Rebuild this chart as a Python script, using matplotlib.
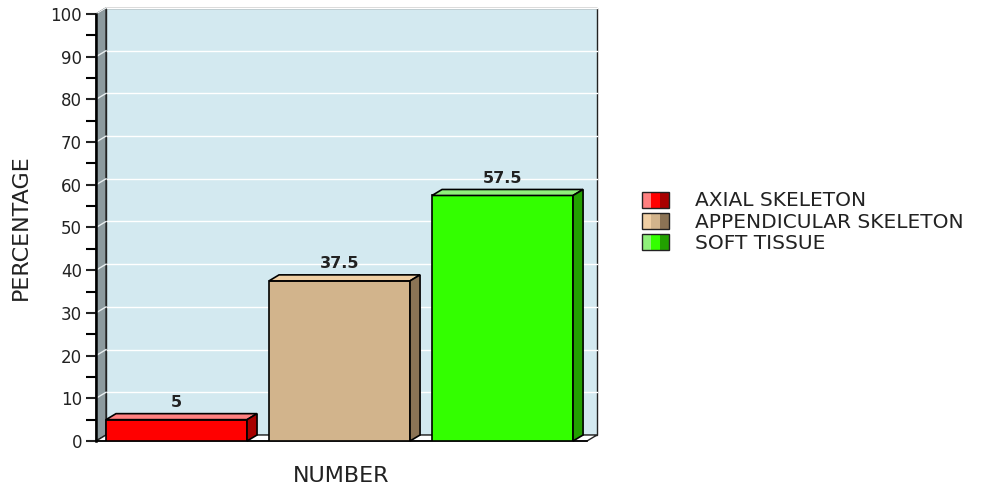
import matplotlib
matplotlib.use("Agg")
import matplotlib.pyplot as plt
from matplotlib.patches import Polygon, Rectangle

categories = ["AXIAL SKELETON", "APPENDICULAR SKELETON", "SOFT TISSUE"]
values = [5, 37.5, 57.5]
labels = ["5", "37.5", "57.5"]
front_colors = ["#ff0000", "#d2b48c", "#33ff00"]
top_colors = ["#ff8080", "#f0cfa4", "#8ff07a"]
side_colors = ["#a80000", "#8b7355", "#22a000"]

plt.rcParams['font.family'] = ['DejaVu Sans']

W, H = 983, 491
fig = plt.figure(figsize=(W / 100, H / 100), dpi=100)
left, right, bottom, top = 96, 587, 441, 14
ax = fig.add_axes([left / W, (H - bottom) / H, (right - left) / W, (bottom - top) / H])

xmin, xmax = -0.494, 2.518
ax.set_xlim(xmin, xmax)
ax.set_ylim(0, 100)

# depth offset (10 px right, 6 px up) in data units
px_x = (xmax - xmin) / (right - left)
px_y = 100 / (bottom - top)
dx, dy = 10 * px_x, 6 * px_y

# back wall, side wall, floor
ax.add_patch(Polygon([(xmin + dx, dy), (xmax + dx, dy), (xmax + dx, 100 + dy), (xmin + dx, 100 + dy)],
                     closed=True, facecolor="#d3e9f0", edgecolor="#222222", lw=1, clip_on=False, zorder=0))
ax.add_patch(Polygon([(xmin, 0), (xmin + dx, dy), (xmin + dx, 100 + dy), (xmin, 100)],
                     closed=True, facecolor="#8c9a9e", edgecolor="#222222", lw=1, clip_on=False, zorder=1))
ax.add_patch(Polygon([(xmin, 0), (xmax, 0), (xmax + dx, dy), (xmin + dx, dy)],
                     closed=True, facecolor="white", edgecolor="#222222", lw=1, clip_on=False, zorder=1))

# grid lines on back and side walls
for g in range(10, 101, 10):
    ax.plot([xmin + dx, xmax + dx], [g + dy, g + dy], color="white", lw=1, zorder=0.5, clip_on=False)
    ax.plot([xmin, xmin + dx], [g, g + dy], color="#e8eef0", lw=1, zorder=1.5, clip_on=False)

width = 0.865
for i, v in enumerate(values):
    x0, x1 = i - width / 2, i + width / 2
    ax.add_patch(Rectangle((x0, 0), width, v, facecolor=front_colors[i], edgecolor="black", lw=1.2, zorder=3))
    ax.add_patch(Polygon([(x0, v), (x1, v), (x1 + dx, v + dy), (x0 + dx, v + dy)], closed=True,
                         facecolor=top_colors[i], edgecolor="black", lw=1.2, zorder=3, clip_on=False))
    ax.add_patch(Polygon([(x1, 0), (x1 + dx, dy), (x1 + dx, v + dy), (x1, v)], closed=True,
                         facecolor=side_colors[i], edgecolor="black", lw=1.2, zorder=3, clip_on=False))
    ax.text(i, v + dy + 0.9, labels[i], ha="center", va="bottom", fontsize=11.5,
            fontweight="bold", color="#222222", zorder=4)

for s in ["top", "right"]:
    ax.spines[s].set_visible(False)
ax.spines["left"].set_linewidth(1.8)
ax.spines["bottom"].set_linewidth(1.2)
ax.spines["left"].set_zorder(5)
ax.set_xticks([])
ax.set_yticks(range(0, 101, 10))
ax.set_yticks(range(5, 100, 10), minor=True)
ax.tick_params(axis="y", which="major", length=7, width=1.5, labelsize=12, pad=3, colors="#222222")
ax.tick_params(axis="y", which="minor", length=7, width=1.5)
ax.set_ylabel("PERCENTAGE", fontsize=16, labelpad=14, color="#222222")
ax.set_xlabel("NUMBER", fontsize=16, labelpad=18, color="#222222")

# legend
lax = fig.add_axes([0, 0, 1, 1], zorder=10)
lax.set_xlim(0, W)
lax.set_ylim(H, 0)
lax.axis("off")
for i, name in enumerate(categories):
    y0 = 192 + i * 21
    cols = [top_colors[i], front_colors[i], side_colors[i]]
    for k in range(3):
        lax.add_patch(Rectangle((642 + k * 9, y0), 9, 16, facecolor=cols[k], edgecolor="none"))
    lax.add_patch(Rectangle((642, y0), 27, 16, facecolor="none", edgecolor="#222222", lw=1))
    lax.text(695, y0 + 9, name, va="center", ha="left", fontsize=14.5, color="#222222")

fig.savefig("out.png", dpi=100)
